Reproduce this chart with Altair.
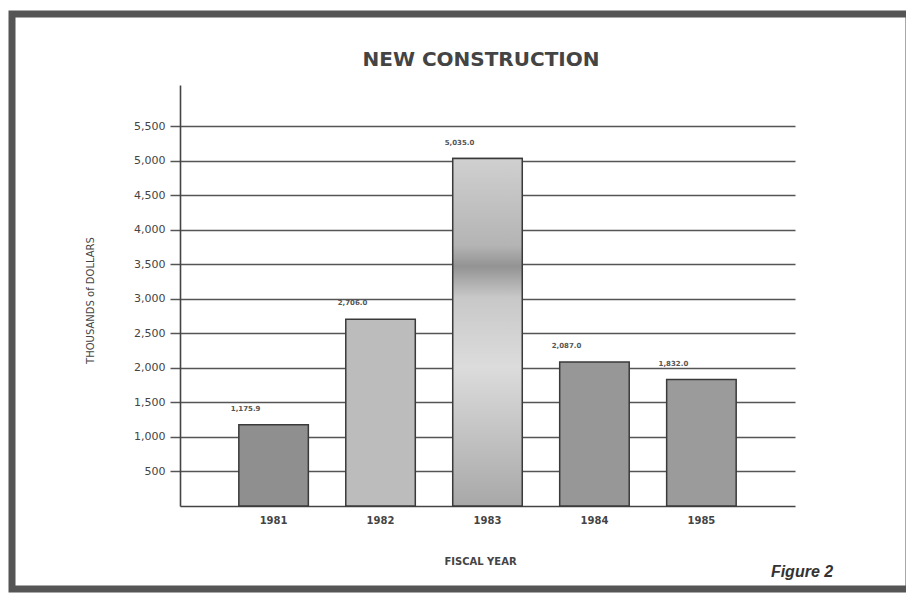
import altair as alt
import pandas as pd

years = ["1981", "1982", "1983", "1984", "1985"]
values = [1175.9, 2706.0, 5035.0, 2087.0, 1832.0]
labels = ["1,175.9", "2,706.0", "5,035.0", "2,087.0", "1,832.0"]
fills = ["#8f8f8f", "#bcbcbc", "#c4c4c4", "#979797", "#9b9b9b"]
y_ticks = [500, 1000, 1500, 2000, 2500, 3000, 3500, 4000, 4500, 5000, 5500]
chart_title = "NEW CONSTRUCTION"
figure_label = "Figure 2"

df = pd.DataFrame({"year": years, "value": values, "label": labels})

W, H = 615, 421

x_enc = alt.X(
    "year:N",
    sort=years,
    scale=alt.Scale(paddingInner=0.35, paddingOuter=0.55),
    axis=alt.Axis(
        title="FISCAL YEAR",
        labelAngle=0,
        ticks=False,
        domainColor="#444",
        domainWidth=1.6,
        labelFont="DejaVu Sans",
        labelFontSize=10,
        labelFontWeight="bold",
        labelColor="#444",
        labelPadding=9,
        titleFont="DejaVu Sans",
        titleFontSize=10,
        titleFontWeight="bold",
        titleColor="#444",
        titleX=300,
        titleY=55,
        titleAlign="center",
        titleBaseline="middle",
    ),
)
y_enc = alt.Y(
    "value:Q",
    scale=alt.Scale(domain=[0, 6100], nice=False),
    axis=alt.Axis(
        title="THOUSANDS of DOLLARS",
        values=y_ticks,
        format=",d",
        grid=True,
        gridColor="#555",
        gridWidth=1.5,
        tickSize=10,
        tickColor="#555",
        tickWidth=1.5,
        domainColor="#444",
        domainWidth=1.6,
        labelFont="DejaVu Sans",
        labelFontSize=11,
        labelColor="#444",
        labelPadding=5,
        titleFont="DejaVu Sans",
        titleFontSize=10,
        titleFontWeight="normal",
        titleColor="#444",
        titleAngle=-90,
        titleX=-90,
        titleY=215,
        titleAlign="center",
        titleBaseline="middle",
    ),
)

base = alt.Chart(df)

bars = base.mark_bar(stroke="#3a3a3a", strokeWidth=1.5).encode(
    x=x_enc,
    y=y_enc,
    color=alt.Color("year:N", scale=alt.Scale(domain=years, range=fills), legend=None),
)

bar83 = base.transform_filter(alt.datum.year == "1983").mark_bar(
    stroke="#3a3a3a",
    strokeWidth=1.5,
    color=alt.Gradient(
        gradient="linear",
        x1=0, y1=0, x2=0, y2=1,
        stops=[
            alt.GradientStop(color="#d0d0d0", offset=0),
            alt.GradientStop(color="#b4b4b4", offset=0.25),
            alt.GradientStop(color="#939393", offset=0.31),
            alt.GradientStop(color="#c8c8c8", offset=0.4),
            alt.GradientStop(color="#dcdcdc", offset=0.6),
            alt.GradientStop(color="#a8a8a8", offset=1),
        ],
    ),
).encode(x=x_enc, y=y_enc)

text = base.mark_text(
    font="DejaVu Sans", fontSize=7, fontWeight="bold", color="#555", dx=-28, dy=-16
).encode(x=x_enc, y=y_enc, text="label:N")

one = alt.Chart(pd.DataFrame({"t": [figure_label], "title": [chart_title]}))

frame = one.mark_rect(fill=None, stroke="#555", strokeWidth=7).encode(
    x=alt.value(-168), x2=alt.value(729), y=alt.value(-71), y2=alt.value(504)
)

fig = one.mark_text(
    font="Liberation Sans", fontSize=16, fontWeight="bold", fontStyle="italic",
    color="#333", align="center", baseline="middle",
).encode(x=alt.value(622), y=alt.value(487), text="t:N")

title = one.mark_text(
    font="DejaVu Sans", fontSize=20, fontWeight="bold",
    color="#444", align="center", baseline="middle",
).encode(x=alt.value(301), y=alt.value(-25), text="title:N")

chart = (
    alt.layer(frame, bars, bar83, text, fig, title)
    .properties(
        width=W,
        height=H,
        padding={"left": 172, "top": 77, "right": 111, "bottom": 87},
        autosize=alt.AutoSizeParams(type="none"),
        background="white",
    )
    .configure_view(stroke=None)
)

chart.save("out.html", embed_options={"renderer": "svg", "actions": False})
